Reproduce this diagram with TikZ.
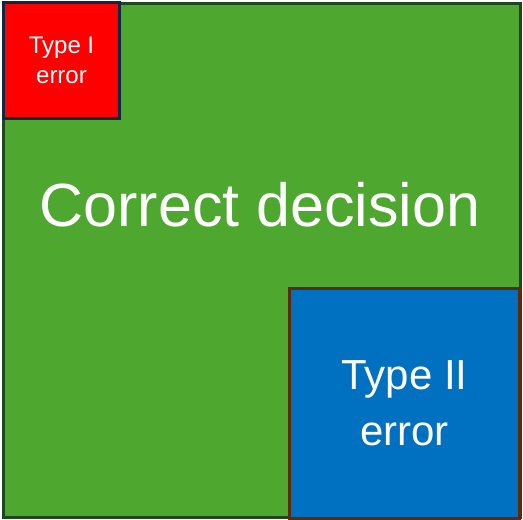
\documentclass[tikz,border=0pt]{standalone}
\usepackage{fontspec}
\setmainfont{Liberation Sans}
\usepackage{tikz}
\usetikzlibrary{positioning}

\definecolor{okfill}{HTML}{4EA72E}
\definecolor{okedge}{HTML}{1E4620}
\definecolor{errIfill}{HTML}{FF0000}
\definecolor{errIedge}{HTML}{0E2841}
\definecolor{errIIfill}{HTML}{0070C0}
\definecolor{errIIedge}{HTML}{5E2A0C}

\begin{document}
\begin{tikzpicture}[x=1pt,y=-1pt]
\useasboundingbox (0,0) rectangle (523,520);
\node[draw=okedge,line width=3pt,fill=okfill,minimum width=517pt,minimum height=514pt,inner sep=0pt] (dec_ok) at (261.5,260) {};
\node[text=white,font=\fontsize{61}{66}\selectfont,inner sep=0pt] (dec_ok_t) at (260,205) {Correct decision};
\node[draw=errIedge,line width=3pt,fill=errIfill,minimum width=116pt,minimum height=116pt,align=center,text=white,font=\fontsize{24}{30}\selectfont,inner sep=0pt] (err_one) at (61.5,60) {Type I\\error};
\node[draw=errIIedge,line width=3pt,fill=errIIfill,minimum width=230pt,minimum height=230pt,align=center,text=white,font=\fontsize{42}{56}\selectfont,inner sep=0pt] (err_two) at (404.5,403) {Type II\\error};
\end{tikzpicture}
\end{document}
